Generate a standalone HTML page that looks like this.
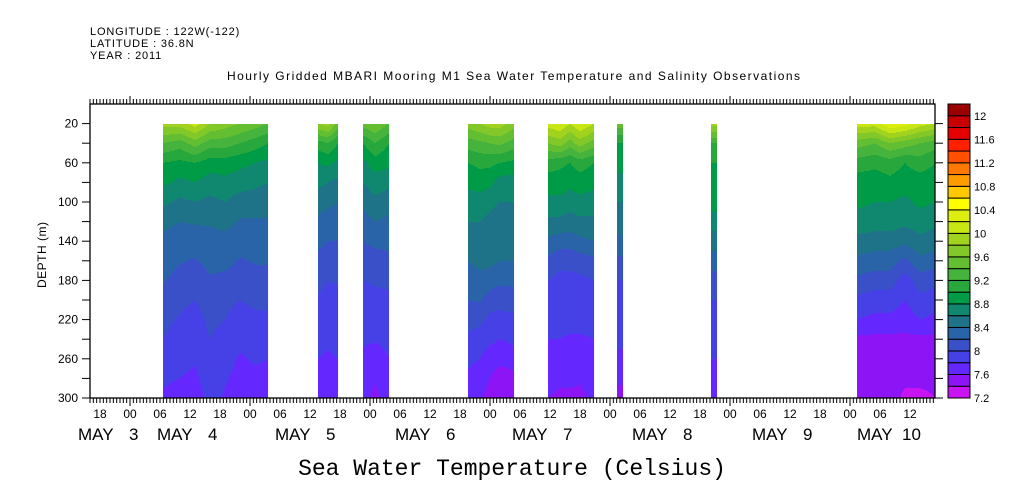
<!DOCTYPE html>
<html><head><meta charset="utf-8">
<style>
body{margin:0;background:#fff;width:1009px;height:504px;overflow:hidden}
svg{display:block;font-family:"Liberation Sans",sans-serif}
</style></head><body>
<svg id="chart" width="1009" height="504" xmlns="http://www.w3.org/2000/svg">
<g font-size="11" fill="#000" letter-spacing="0.85">
<text x="90" y="35">LONGITUDE : 122W(-122)</text>
<text x="90" y="47">LATITUDE : 36.8N</text>
<text x="90" y="59">YEAR : 2011</text>
</g>
<text x="227" y="80" font-size="12" textLength="573" lengthAdjust="spacing">Hourly Gridded MBARI Mooring M1 Sea Water Temperature and Salinity Observations</text>
<g id="field"></g>
<g id="axes"></g>
<g id="cbar"></g>
<text transform="translate(46,255) rotate(-90)" font-size="12" text-anchor="middle" textLength="66" lengthAdjust="spacing">DEPTH (m)</text>
<text x="512" y="475" font-family="Liberation Mono, monospace" font-size="23" text-anchor="middle">Sea Water Temperature (Celsius)</text>
</svg>
<script>
const depths=[20,40,60,80,100,120,140,160,180,200,220,240,260,280,300];
const segStart=[30.6,61.6,70.6,91.6,107.6,121.4,140.2,169.4];
const segEnd=[51.6,65.6,75.8,100.8,116.8,122.6,141.4,185];
const segTimes=[[30.6,34,37,40,43,46,49,51.6],[61.6,63.6,65.6],[70.6,73,75.8],[91.6,94,96,98,100.8],[107.6,110,112,114,116.8],[121.4,122.6],[140.2,141.4],[169.4,173,176,179,182,185]];
const segTemps=[
[[9.9,9.4,9.0,8.85,8.65,8.45,8.35,8.3,8.22,8.12,8.05,8.0,7.92,7.82,7.78],
 [9.9,9.3,8.95,8.75,8.55,8.4,8.32,8.22,8.12,8.05,7.98,7.92,7.86,7.8,7.75],
 [10.1,9.5,9.0,8.8,8.6,8.42,8.3,8.18,8.08,8.0,7.92,7.86,7.82,7.76,7.72],
 [9.8,9.3,8.9,8.7,8.55,8.42,8.34,8.26,8.18,8.1,8.05,8.0,7.95,7.9,7.85],
 [9.7,9.3,8.9,8.75,8.6,8.45,8.35,8.27,8.14,8.05,8.0,7.92,7.87,7.82,7.78],
 [9.6,9.2,8.85,8.7,8.5,8.38,8.3,8.18,8.08,8.0,7.92,7.84,7.78,7.74,7.7],
 [9.5,9.1,8.8,8.65,8.5,8.38,8.3,8.22,8.12,8.04,7.96,7.9,7.82,7.76,7.72],
 [9.4,9.0,8.75,8.6,8.48,8.38,8.3,8.22,8.12,8.04,7.96,7.88,7.8,7.74,7.7]],
[[9.8,9.1,8.8,8.65,8.5,8.35,8.25,8.15,8.05,7.98,7.92,7.85,7.8,7.75,7.7],
 [9.9,9.2,8.85,8.6,8.45,8.3,8.2,8.1,8.0,7.95,7.88,7.82,7.78,7.72,7.68],
 [9.5,9.0,8.75,8.55,8.4,8.3,8.2,8.1,8.02,7.95,7.9,7.85,7.8,7.75,7.7]],
[[9.5,9.0,8.75,8.6,8.45,8.3,8.2,8.1,8.0,7.95,7.88,7.82,7.78,7.72,7.68],
 [9.6,9.2,8.9,8.7,8.55,8.4,8.25,8.12,8.02,7.95,7.88,7.82,7.7,7.62,7.55],
 [9.4,9.0,8.85,8.65,8.5,8.35,8.25,8.15,8.05,7.95,7.9,7.85,7.8,7.75,7.7]],
[[9.7,9.3,9.0,8.85,8.7,8.6,8.5,8.4,8.3,8.2,8.1,7.95,7.85,7.75,7.7],
 [9.8,9.35,9.05,8.9,8.7,8.6,8.5,8.45,8.35,8.22,8.05,7.9,7.8,7.7,7.65],
 [9.9,9.4,9.05,8.85,8.65,8.55,8.5,8.45,8.3,8.1,7.95,7.85,7.7,7.6,7.5],
 [9.9,9.45,9.0,8.7,8.6,8.5,8.45,8.4,8.25,8.05,7.95,7.8,7.65,7.5,7.4],
 [9.7,9.3,8.95,8.7,8.6,8.55,8.5,8.4,8.25,8.1,7.95,7.85,7.7,7.55,7.45]],
[[10.1,9.6,9.1,8.9,8.75,8.55,8.35,8.15,8.0,7.9,7.85,7.8,7.75,7.7,7.6],
 [10.2,9.7,9.05,8.9,8.75,8.55,8.3,8.05,7.95,7.9,7.85,7.8,7.72,7.65,7.55],
 [10.0,9.5,9.0,8.85,8.7,8.5,8.3,8.05,7.95,7.9,7.85,7.78,7.7,7.65,7.55],
 [10.2,9.7,9.1,8.9,8.75,8.55,8.35,8.1,7.95,7.9,7.85,7.78,7.7,7.62,7.55],
 [10.0,9.5,9.0,8.85,8.7,8.55,8.4,8.15,8.0,7.92,7.85,7.8,7.75,7.7,7.65]],
[[9.5,9.0,8.9,8.7,8.6,8.5,8.35,8.15,8.0,7.95,7.9,7.85,7.75,7.65,7.5],
 [9.5,9.0,8.9,8.7,8.6,8.5,8.35,8.15,8.0,7.95,7.9,7.85,7.75,7.65,7.5]],
[[9.9,9.2,9.0,8.95,8.9,8.7,8.5,8.3,8.1,8.0,7.9,7.85,7.8,7.7,7.65],
 [9.9,9.2,9.0,8.95,8.9,8.7,8.5,8.3,8.1,8.0,7.9,7.85,7.8,7.7,7.65]],
[[10.1,9.5,9.1,8.9,8.85,8.7,8.55,8.35,8.15,7.95,7.8,7.55,7.5,7.45,7.42],
 [10.1,9.4,9.05,8.9,8.8,8.7,8.5,8.3,8.1,7.9,7.75,7.55,7.5,7.45,7.42],
 [10.4,9.6,9.1,8.95,8.8,8.7,8.5,8.3,8.1,7.9,7.75,7.55,7.5,7.5,7.5],
 [10.3,9.5,9.0,8.9,8.75,8.65,8.45,8.15,7.9,7.8,7.7,7.55,7.5,7.45,7.35],
 [10.1,9.4,9.1,8.9,8.85,8.7,8.55,8.35,8.1,7.95,7.8,7.55,7.5,7.45,7.35],
 [10.0,9.3,9.0,8.9,8.8,8.65,8.5,8.3,8.05,7.9,7.75,7.55,7.5,7.45,7.4]]];
const levelColors=["#c814f0","#8c14f5","#6428ff","#4641e6","#3a50c8","#2a64a8","#1e7388","#108870","#009b46","#28a83c","#46b43c","#64be32","#82c828","#a0d21e","#c8e614","#dcee10","#ffff00","#ffc800","#ff9c00","#ff7800","#ff5000","#ff2000","#e60000","#c80000","#9b0000"];
const levelLabels=["7.2","7.6","8","8.4","8.8","9.2","9.6","10","10.4","10.8","11.2","11.6","12"];

const NS="http://www.w3.org/2000/svg";
const X0=90,X1=935,T0=16,T1=185,Y0=104,Y1=398,D0=0,D1=300;
const xs=t=>X0+(t-T0)*(X1-X0)/(T1-T0);
const ys=d=>Y0+(d-D0)*(Y1-Y0)/(D1-D0);
const dInv=y=>D0+(y-Y0)*(D1-D0)/(Y1-Y0);
const tInv=x=>T0+(x-X0)*(T1-T0)/(X1-X0);
function mk(tag,attrs,parent){const e=document.createElementNS(NS,tag);for(const k in attrs)e.setAttribute(k,attrs[k]);parent.appendChild(e);return e;}
function lvl(v){let i=Math.floor((v-7.2)/0.2+1e-6);return Math.max(0,Math.min(levelColors.length-1,i));}
function sample(s,t,d){
  const ts=segTimes[s],P=segTemps[s];
  let i=0;while(i<ts.length-2&&t>ts[i+1])i++;
  let f=ts.length>1?(t-ts[i])/(ts[i+1]-ts[i]):0;f=Math.max(0,Math.min(1,f));
  let j=Math.floor((d-20)/20);j=Math.max(0,Math.min(depths.length-2,j));
  let g=(d-depths[j])/20;g=Math.max(0,Math.min(1,g));
  const a=P[i][j]*(1-g)+P[i][j+1]*g;
  const b=P[i+1]?P[i+1][j]*(1-g)+P[i+1][j+1]*g:a;
  return a*(1-f)+b*f;
}
const field=document.getElementById('field');
for(let s=0;s<segStart.length;s++){
  const xa=Math.round(xs(segStart[s])),xb=Math.round(xs(segEnd[s]));
  const ya=Math.round(ys(depths[0])),yb=Math.round(ys(depths[depths.length-1]));
  const g=mk('g',{},field);
  
  
  for(let x=xa;x<xb;x++){
    const t=tInv(x+0.5);
    let runStart=ya,cur=lvl(sample(s,t,dInv(ya+0.5)));
    for(let y=ya+1;y<=yb;y++){
      const c=y<yb?lvl(sample(s,t,dInv(y+0.5))):-1;
      if(c!==cur){
        const r=mk('rect',{x:x,y:runStart,width:1.05,height:y-runStart,fill:levelColors[cur]},g);
        
        
        runStart=y;cur=c;
      }
    }
  }
}
const ax=document.getElementById('axes');
mk('rect',{x:X0,y:Y0,width:X1-X0,height:Y1-Y0,fill:'none',stroke:'#000','stroke-width':1.3},ax);
for(let k=0;;k++){
  const t=T0+k*2/3; if(t>T1+0.01)break;
  const x=xs(t); const hm=((t%24)+24)%24; const major=hm<0.01||hm>23.99;
  const L=major?8:5;
  mk('line',{x1:x,y1:Y1,x2:x,y2:Y1+L,stroke:'#000','stroke-width':1},ax);
  mk('line',{x1:x,y1:Y0,x2:x,y2:Y0-L,stroke:'#000','stroke-width':1},ax);
}
for(let t=18;t<=T1;t+=6){
  const h=t%24;const lab=(h<10?"0":"")+h;
  const tx=mk('text',{x:xs(t),y:418,'font-size':12,'text-anchor':'middle'},ax);
  
  
  tx.textContent=lab;
}
const dayNames=["3","4","5","6","7","8","9","10"];
const dayStart=[78,157,275,395,512,632,752,857];
dayNames.forEach((dn,i)=>{
  const g=mk('g',{'font-size':17},ax);
  
  
  mk('text',{x:dayStart[i],y:440},g).textContent="MAY";
  mk('text',{x:dayStart[i]+(dn.length>1?45:51),y:440},g).textContent=dn;
});
for(let d=20;d<=300;d+=20){
  const y=ys(d);
  mk('line',{x1:X0-8,y1:y,x2:X0,y2:y,stroke:'#000'},ax);
  mk('line',{x1:X1,y1:y,x2:X1+8,y2:y,stroke:'#000'},ax);
  if((d-20)%40===0){
    const tx=mk('text',{x:78,y:y+4,'font-size':12,'text-anchor':'end'},ax);
    
    
    tx.textContent=d;
  }
}
const cb=document.getElementById('cbar');
const CX=948,CW=22,bh=(Y1-Y0)/levelColors.length;
levelColors.forEach((c,i)=>{
  const r=mk('rect',{x:CX,y:Y1-(i+1)*bh,width:CW,height:bh,fill:c,stroke:'#000','stroke-width':1},cb);
  
  
});
levelLabels.forEach((lab,i)=>{
  const tx=mk('text',{x:CX+CW+4,y:Y1-i*2*bh+4,'font-size':11},cb);
  
  
  tx.textContent=lab;
});
</script>
</body></html>
